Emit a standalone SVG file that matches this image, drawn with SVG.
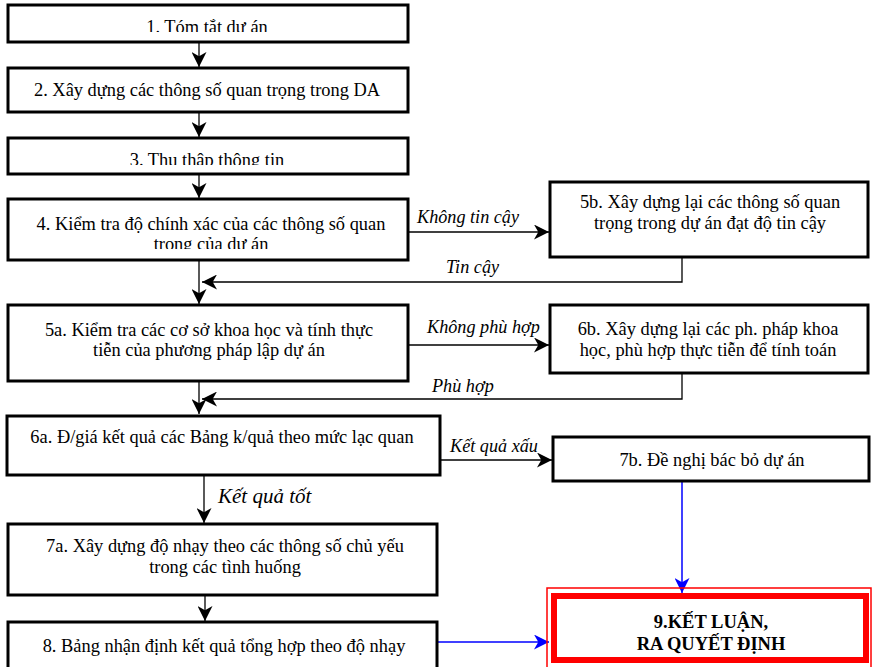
<svg xmlns="http://www.w3.org/2000/svg" width="872" height="667" viewBox="0 0 872 667">
<defs>
<style>
.box{fill:#fff;stroke:#000;stroke-width:3}
.t{font-family:"Liberation Serif","Times New Roman",serif;font-size:18.4px;fill:#000;text-anchor:middle}
.lbl{font-family:"Liberation Serif","Times New Roman",serif;font-size:18.2px;font-style:italic;fill:#000}
.c{fill:none;stroke:#000;stroke-width:1.3}
.cb{fill:none;stroke:#0000ff;stroke-width:1.5}
.bold{font-family:"Liberation Serif","Times New Roman",serif;font-size:18.5px;font-weight:bold;fill:#000;text-anchor:middle}
</style>
<marker id="ah" viewBox="0 0 14 14" refX="14" refY="7" markerWidth="15" markerHeight="15" markerUnits="userSpaceOnUse" orient="auto"><path d="M0,0 L14,7 L0,14 L4,7 Z" fill="#000"/></marker>
<marker id="ahb" viewBox="0 0 14 14" refX="14" refY="7" markerWidth="15" markerHeight="15" markerUnits="userSpaceOnUse" orient="auto"><path d="M0,0 L14,7 L0,14 L4,7 Z" fill="#0000ff"/></marker>
<clipPath id="clip1"><rect x="0" y="0" width="420" height="32"/></clipPath>
<clipPath id="clip3"><rect x="0" y="130" width="420" height="35"/></clipPath>
<clipPath id="clip4"><rect x="0" y="190" width="420" height="59"/></clipPath>
</defs>
<g id="connectors">
<line class="c" x1="199" y1="42" x2="199" y2="67" marker-end="url(#ah)"/>
<line class="c" x1="199" y1="112" x2="199" y2="137" marker-end="url(#ah)"/>
<line class="c" x1="199" y1="174" x2="199" y2="198" marker-end="url(#ah)"/>
<line class="c" x1="199" y1="260" x2="199" y2="304" marker-end="url(#ah)"/>
<line class="c" x1="199" y1="381" x2="199" y2="414" marker-end="url(#ah)"/>
<line class="c" x1="408" y1="232" x2="549" y2="232" marker-end="url(#ah)"/>
<polyline class="c" points="682,257 682,282 202,282" marker-end="url(#ah)"/>
<line class="c" x1="408" y1="345" x2="549" y2="345" marker-end="url(#ah)"/>
<polyline class="c" points="682,373 682,399 202,399" marker-end="url(#ah)"/>
<line class="c" x1="440" y1="460" x2="552" y2="460" marker-end="url(#ah)"/>
<line class="c" x1="204" y1="475" x2="204" y2="523" marker-end="url(#ah)"/>
<line class="c" x1="205" y1="595" x2="205" y2="621" marker-end="url(#ah)"/>
<line class="cb" x1="682" y1="481" x2="682" y2="593" marker-end="url(#ahb)"/>
<line class="cb" x1="437" y1="642" x2="549" y2="642" marker-end="url(#ahb)"/>
<text class="lbl" x="417" y="223">Không tin cậy</text>
<text class="lbl" x="446" y="273">Tin cậy</text>
<text class="lbl" x="427" y="333">Không phù hợp</text>
<text class="lbl" x="432" y="392">Phù hợp</text>
<text class="lbl" x="450" y="452">Kết quả xấu</text>
<text class="lbl" x="218" y="503" style="font-size:21px">Kết quả tốt</text>
</g>
<g id="n1"><rect class="box" x="8" y="5" width="400" height="37"/><text class="t" x="207" y="33" clip-path="url(#clip1)">1. Tóm tắt dự án</text></g>
<g id="n2"><rect class="box" x="8" y="68" width="400" height="44"/><text class="t" x="207" y="96">2. Xây dựng các thông số quan trọng trong DA</text></g>
<g id="n3"><rect class="box" x="8" y="138" width="400" height="36"/><text class="t" x="207" y="166" clip-path="url(#clip3)">3. Thu thập thông tin</text></g>
<g id="n4"><rect class="box" x="8" y="199" width="400" height="61"/><text class="t" clip-path="url(#clip4)"><tspan x="211" y="230">4. Kiểm tra độ chính xác của các thông số quan</tspan><tspan x="211" y="250">trong của dự án</tspan></text></g>
<g id="n5a"><rect class="box" x="8" y="305" width="400" height="76"/><text class="t"><tspan x="209" y="336">5a. Kiểm tra các cơ sở khoa học và tính thực</tspan><tspan x="209" y="356">tiễn của phương pháp lập dự án</tspan></text></g>
<g id="n5b"><rect class="box" x="550" y="182" width="318" height="75"/><text class="t"><tspan x="710" y="208">5b. Xây dựng lại các thông số quan</tspan><tspan x="710" y="229">trọng trong dự án đạt độ tin cậy</tspan></text></g>
<g id="n6b"><rect class="box" x="550" y="305" width="318" height="68"/><text class="t"><tspan x="708" y="335">6b. Xây dựng lại các ph. pháp khoa</tspan><tspan x="708" y="356">học, phù hợp thực tiễn để tính toán</tspan></text></g>
<g id="n6a"><rect class="box" x="7" y="416" width="433" height="59"/><text class="t" x="222" y="443">6a. Đ/giá kết quả các Bảng k/quả theo mức lạc quan</text></g>
<g id="n7b"><rect class="box" x="553" y="437" width="316" height="44"/><text class="t" x="712" y="466">7b. Đề nghị bác bỏ dự án</text></g>
<g id="n7a"><rect class="box" x="8" y="524" width="429" height="71"/><text class="t"><tspan x="225" y="552">7a. Xây dựng độ nhạy theo các thông số chủ yếu</tspan><tspan x="225" y="573">trong các tình huống</tspan></text></g>
<g id="n8"><rect class="box" x="8" y="622" width="429" height="60"/><text class="t" x="224" y="652">8. Bảng nhận định kết quả tổng hợp theo độ nhạy</text></g>
<g id="n9"><rect x="547" y="588" width="324" height="82" fill="none" stroke="#ff0000" stroke-width="1.5"/><rect x="554" y="596" width="312" height="64" fill="#fff" stroke="#ff0000" stroke-width="6"/><text class="bold"><tspan x="711" y="628">9.KẾT LUẬN,</tspan><tspan x="711" y="650">RA QUYẾT ĐỊNH</tspan></text></g>
</svg>
